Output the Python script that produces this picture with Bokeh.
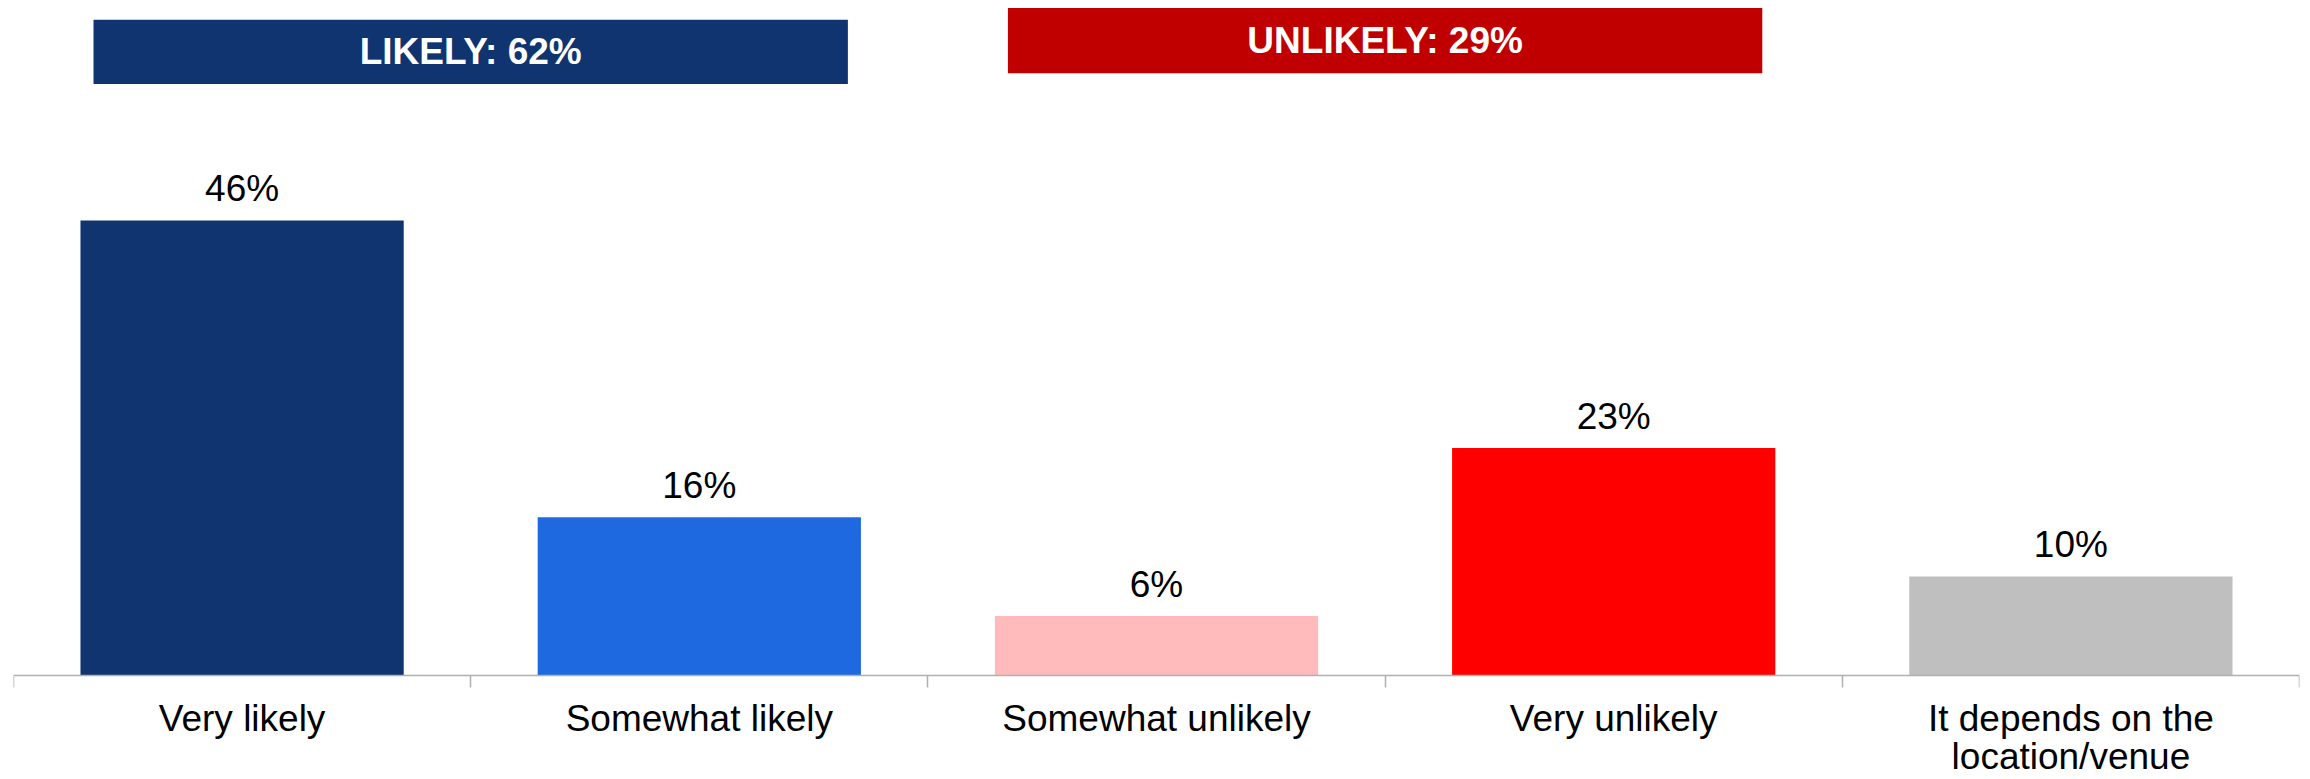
from bokeh.plotting import figure
from bokeh.models import ColumnDataSource, FixedTicker, Range1d, LinearAxis
from bokeh.embed import file_html
from bokeh.resources import INLINE
from bokeh.core.properties import value

categories = ["Very likely", "Somewhat likely", "Somewhat unlikely", "Very unlikely",
              "It depends on the location/venue"]
values = [46, 16, 6, 23, 10]
colors = ["#0F3470", "#1F69E0", "#FFBBBB", "#FF0000", "#BFBFBF"]

group_names = ["LIKELY", "UNLIKELY"]
group_values = [62, 29]
group_first = [0, 2]
group_last = [1, 3]
group_colors = ["#0F3470", "#C00000"]
group_bottom = [59.8, 60.9]
group_top = [66.3, 67.5]

FONT = "Liberation Sans"
WRAP_AT = "the "
n = len(categories)
xs = list(range(n))

p = figure(width=2310, height=779, output_backend="svg", toolbar_location=None,
           x_range=Range1d(-0.5, n - 0.5), y_range=Range1d(-10.52, 68.25),
           x_axis_location=None, y_axis_location=None,
           min_border_left=13, min_border_right=11, min_border_top=0, min_border_bottom=0)
p.outline_line_color = None
p.background_fill_color = "white"
p.border_fill_color = "white"
for g in p.grid:
    g.visible = False

src = ColumnDataSource(dict(x=xs, top=values, color=colors,
                            label=[f"{v}%" for v in values]))
p.vbar(x="x", top="top", bottom=0, width=0.707, color="color", line_color=None, source=src)
p.text(x="x", y="top", text="label", source=src, text_align="center",
       text_baseline="alphabetic", y_offset=-32, text_font=value(FONT),
       text_font_size="37px", text_color="black")

centers = [(a + b) / 2 for a, b in zip(group_first, group_last)]
gsrc = ColumnDataSource(dict(
    left=[c - 0.825 for c in centers], right=[c + 0.825 for c in centers],
    bottom=group_bottom, top=group_top, color=group_colors,
    x=centers, y=[(b + t) / 2 for b, t in zip(group_bottom, group_top)],
    label=[f"{nm}: {v}%" for nm, v in zip(group_names, group_values)]))
p.quad(left="left", right="right", bottom="bottom", top="top", color="color",
       line_color=None, source=gsrc)
p.text(x="x", y="y", text="label", source=gsrc, text_align="center",
       text_baseline="middle", text_font=value(FONT), text_font_size="37px",
       text_font_style="bold", text_color="white")

# long category labels wrap: first line on the axis, second line just below it
first_lines, second_x, second_text = {}, [], []
for i, c in enumerate(categories):
    if WRAP_AT in c:
        a, b = c.split(WRAP_AT, 1)
        first_lines[i] = (a + WRAP_AT).strip()
        second_x.append(i)
        second_text.append(b)
    else:
        first_lines[i] = c

ax = LinearAxis(fixed_location=0)
ax.ticker = FixedTicker(ticks=xs, minor_ticks=[i - 0.5 for i in range(n + 1)])
ax.major_label_overrides = first_lines
ax.major_tick_out = 0
ax.major_tick_in = 0
ax.minor_tick_out = 12
ax.minor_tick_in = 0
ax.minor_tick_line_color = "#B0B0B0"
ax.minor_tick_line_width = 1.5
ax.axis_line_color = "#B0B0B0"
ax.axis_line_width = 1.5
ax.major_label_standoff = 11
ax.major_label_text_font = FONT
ax.major_label_text_font_size = "37px"
ax.major_label_text_color = "black"
p.add_layout(ax, "below")

lsrc = ColumnDataSource(dict(x=second_x, y=[0] * len(second_x), text=second_text))
p.text(x="x", y="y", text="text", source=lsrc, text_align="center",
       text_baseline="alphabetic", y_offset=81, text_font=value(FONT),
       text_font_size="37px", text_color="black")

open("out.html", "w").write(file_html(p, INLINE))
